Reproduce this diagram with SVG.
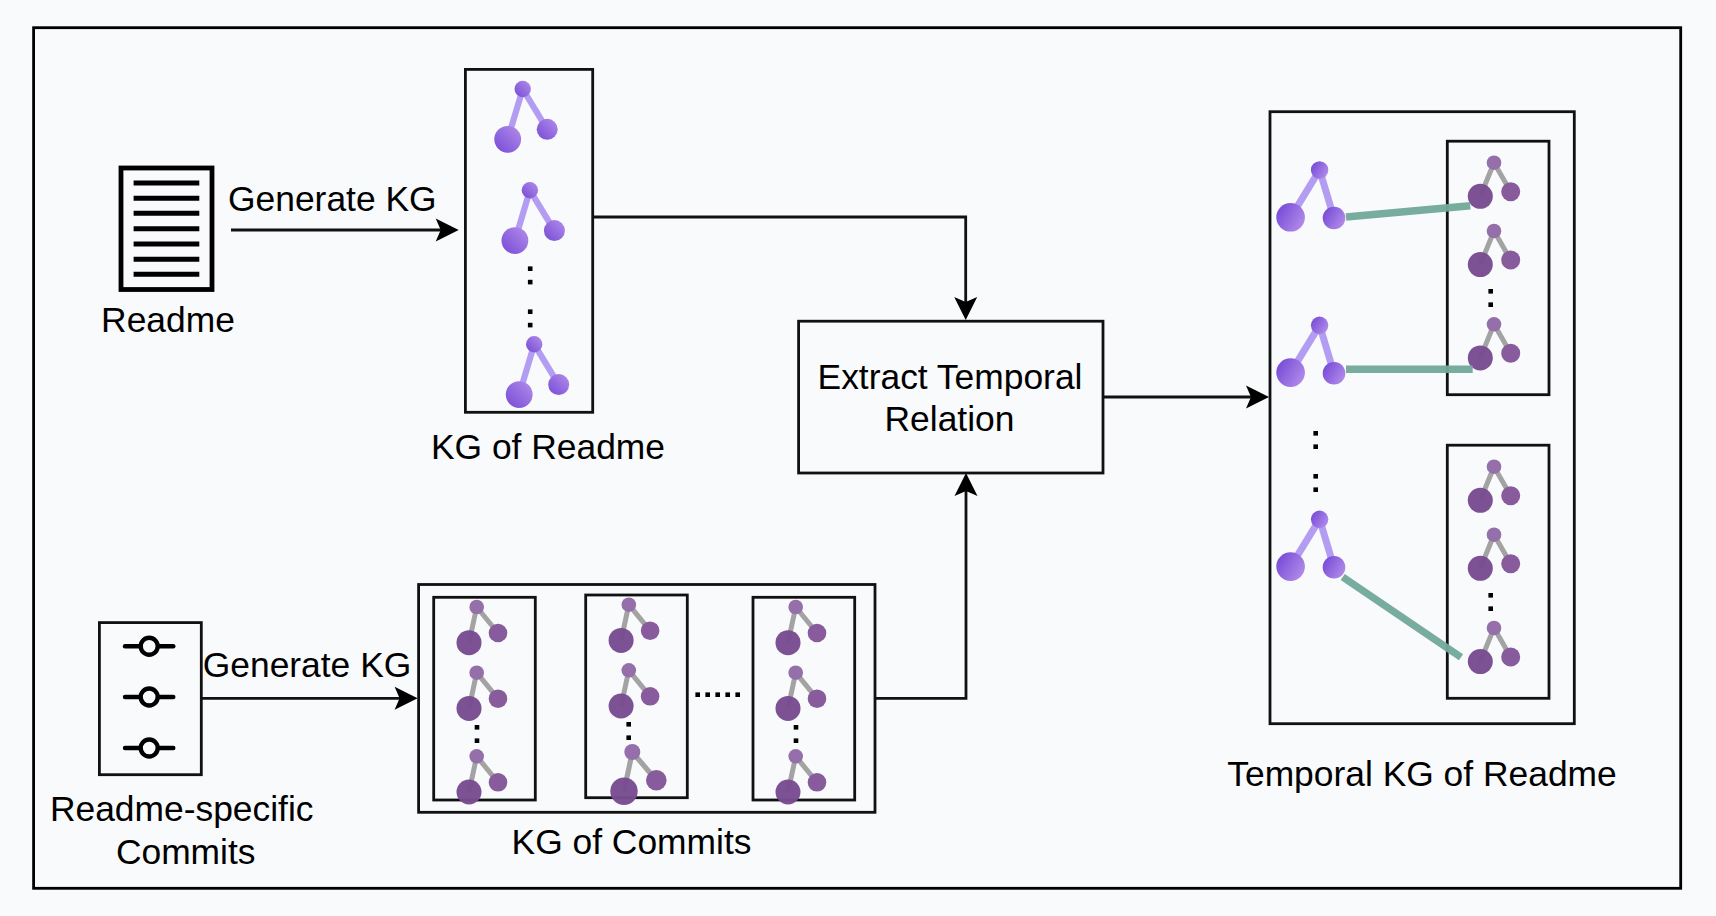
<svg xmlns="http://www.w3.org/2000/svg" width="1716" height="916" viewBox="0 0 1716 916">
<style>
text{font-family:"Liberation Sans",Arial,sans-serif;font-size:35.4px;fill:#000;text-anchor:middle}
.box{fill:none;stroke:#111;stroke-width:2.8}
.conn{fill:none;stroke:#111;stroke-width:2.8}
.link{stroke:#72a99b;stroke-width:7.4;opacity:.96;fill:none}
.e1{stroke:#b39df3;fill:none}
.e2{stroke:#a3a3a3;fill:none}
.big{fill:#784c91;fill-opacity:.97}
.mid{fill:#885c9c}
.top{fill:#956fa9}
.dot{fill:#000}
.ico{stroke:#000;stroke-width:4.4;fill:#f9fafc;stroke-linecap:round}
</style>
<defs>
<linearGradient id="gA" x1="0" y1="1" x2="1" y2="0"><stop offset="0" stop-color="#7649d6"/><stop offset="1" stop-color="#b48eea"/></linearGradient>
<linearGradient id="gB" x1="0" y1=".2" x2="1" y2=".8"><stop offset="0" stop-color="#7649d6"/><stop offset="1" stop-color="#b48eea"/></linearGradient>
<marker id="arrow" markerUnits="userSpaceOnUse" markerWidth="24" markerHeight="24" viewBox="0 -12 23 24" refX="8" refY="0" orient="auto"><path d="M0,-11.5L23,0L0,11.5L5,0Z" fill="#000"/></marker>
<g id="treeReadme">
<path class="e1" stroke-width="6.2" d="M-15,50.3L0,0L24.5,40.3"/>
<circle cx="0" cy="0" r="8.2" fill="url(#gA)"/><circle cx="-15" cy="50.3" r="13.4" fill="url(#gA)"/><circle cx="24.5" cy="40.3" r="10.5" fill="url(#gA)"/>
</g>
<g id="treeTemporal">
<path class="e1" stroke-width="7" d="M-29,47.3L0,0L14.4,48"/>
<circle cx="0" cy="0" r="8.7" fill="url(#gB)"/><circle cx="-29" cy="47.3" r="14.3" fill="url(#gB)"/><circle cx="14.4" cy="48" r="11.3" fill="url(#gB)"/>
</g>
<g id="treeInner">
<path class="e2" stroke-width="5" d="M-13.7,33.6L0,0L16.7,29"/>
<circle cx="0" cy="0" r="7.3" class="top"/><circle cx="-13.7" cy="33.6" r="12.5" class="big"/><circle cx="16.7" cy="29" r="9.5" class="mid"/>
</g>
<g id="treeCommit">
<path class="e2" stroke-width="5" d="M-7.7,35.7L0,0L21.3,26"/>
<circle cx="0" cy="0" r="7.3" class="top"/><circle cx="-7.7" cy="35.7" r="12.5" class="big"/><circle cx="21.3" cy="26" r="9.3" class="mid"/>
</g>
<g id="vdots"><rect class="dot" x="-2.3" y="-2.3" width="4.6" height="4.6"/><rect class="dot" x="-2.3" y="11.1" width="4.6" height="4.6"/></g>
</defs>
<rect width="1716" height="916" fill="#f9fafc"/>
<g id="frame"><rect x="33.6" y="27.7" width="1647.1" height="860.6" fill="none" stroke="#000" stroke-width="2.8"/></g>

<g id="connectors">
<path class="conn" marker-end="url(#arrow)" d="M231,230H443.7"/>
<path class="conn" marker-end="url(#arrow)" d="M592.7,217H965.7V305"/>
<path class="conn" marker-end="url(#arrow)" d="M201.3,698.3H402.6"/>
<path class="conn" marker-end="url(#arrow)" d="M875,698.3H966V488"/>
<path class="conn" marker-end="url(#arrow)" d="M1103,397H1254"/>
</g>

<g id="readme-doc">
<rect x="121" y="168" width="91" height="121.5" fill="none" stroke="#000" stroke-width="4.8"/>
<path stroke="#000" stroke-width="5" d="M133.6,183H199.3M133.6,198.3H199.3M133.6,213.3H199.3M133.6,228.7H199.3M133.6,244H199.3M133.6,259.3H199.3M133.6,274.3H199.3"/>
<text x="168" y="332.4">Readme</text>
</g>
<g id="label-generate-1"><text x="332.3" y="210.8">Generate KG</text></g>

<g id="kg-readme">
<rect class="box" x="465.4" y="69.4" width="127.3" height="342.9"/>
<use href="#treeReadme" x="522.7" y="89"/>
<use href="#treeReadme" x="529.9" y="190.3"/>
<use href="#vdots" x="530.2" y="268.7"/>
<use href="#vdots" x="530.2" y="311.7"/>
<use href="#treeReadme" x="534.2" y="344.3"/>
<text x="548" y="458.8">KG of Readme</text>
</g>

<g id="extract">
<rect class="box" x="798.6" y="321.2" width="304.4" height="151.8"/>
<text x="950" y="389">Extract Temporal</text>
<text x="949.5" y="431.4">Relation</text>
</g>

<g id="commits-doc">
<rect class="box" x="99.4" y="622.6" width="101.9" height="152.1"/>
<g class="ico">
<path d="M125,646.3H173.3"/><circle cx="149.2" cy="646.3" r="8.5"/>
<path d="M125,697H173.3"/><circle cx="149.2" cy="697" r="8.5"/>
<path d="M125,748H173.3"/><circle cx="149.2" cy="748" r="8.5"/>
</g>
<text x="181.7" y="821.4">Readme-specific</text>
<text x="185.7" y="864">Commits</text>
</g>
<g id="label-generate-2"><text x="307" y="676.8">Generate KG</text></g>

<g id="kg-commits">
<rect class="box" x="418.6" y="584.5" width="456.4" height="227.8"/>
<g id="commit-1">
<rect class="box" x="433.7" y="597.3" width="101.6" height="202.7"/>
<use href="#treeCommit" x="476.7" y="607"/>
<use href="#treeCommit" x="476.7" y="672.7"/>
<use href="#vdots" x="477" y="727.3"/>
<use href="#treeCommit" x="476.7" y="756.3"/>
</g>
<g id="commit-2">
<rect class="box" x="585.7" y="595" width="101.6" height="202.7"/>
<use href="#treeCommit" x="628.8" y="604.7"/>
<use href="#treeCommit" x="628.8" y="670.3"/>
<use href="#vdots" x="628.7" y="724.3"/>
<path class="e2" stroke-width="5.2" d="M624,791.3L632.3,752L656.3,780.3"/>
<circle cx="632.3" cy="752" r="8" class="top"/><circle cx="624" cy="791.3" r="13.7" class="big"/><circle cx="656.3" cy="780.3" r="10.3" class="mid"/>
</g>
<g id="hdots" class="dot">
<rect x="695.4" y="692.4" width="4.6" height="4.6"/><rect x="705.4" y="692.4" width="4.6" height="4.6"/><rect x="715.4" y="692.4" width="4.6" height="4.6"/><rect x="725.4" y="692.4" width="4.6" height="4.6"/><rect x="735.4" y="692.4" width="4.6" height="4.6"/>
</g>
<g id="commit-3">
<rect class="box" x="753" y="597.3" width="101.7" height="202.7"/>
<use href="#treeCommit" x="795.7" y="607"/>
<use href="#treeCommit" x="795.7" y="672.7"/>
<use href="#vdots" x="796" y="727.3"/>
<use href="#treeCommit" x="795.7" y="756.3"/>
</g>
<text x="631.5" y="854">KG of Commits</text>
</g>

<g id="temporal-kg">
<rect class="box" x="1270" y="111.7" width="304.3" height="612"/>
<use href="#treeTemporal" x="1319.6" y="170"/>
<use href="#treeTemporal" x="1319.6" y="325.3"/>
<use href="#vdots" x="1315.7" y="433.3"/>
<use href="#vdots" x="1315.7" y="476.3"/>
<use href="#treeTemporal" x="1319.6" y="519.3"/>
<g id="temporal-inner-1">
<rect class="box" x="1447.3" y="141.2" width="101.7" height="253.5"/>
<use href="#treeInner" x="1494" y="162.7"/>
<use href="#treeInner" x="1494" y="231"/>
<use href="#vdots" x="1490.7" y="291.3"/>
<use href="#treeInner" x="1494" y="324.3"/>
</g>
<g id="temporal-inner-2">
<rect class="box" x="1447.3" y="445.2" width="101.7" height="253.1"/>
<use href="#treeInner" x="1494" y="466.7"/>
<use href="#treeInner" x="1494" y="534.7"/>
<use href="#vdots" x="1490.7" y="595.3"/>
<use href="#treeInner" x="1494" y="628"/>
</g>
<text x="1422" y="785.8">Temporal KG of Readme</text>
</g>

<g id="temporal-links">
<path class="link" d="M1346,217L1470.3,205.7"/>
<path class="link" d="M1346,369.3H1472.7"/>
<path class="link" d="M1342.7,577L1461,657.3"/>
</g>
</svg>
